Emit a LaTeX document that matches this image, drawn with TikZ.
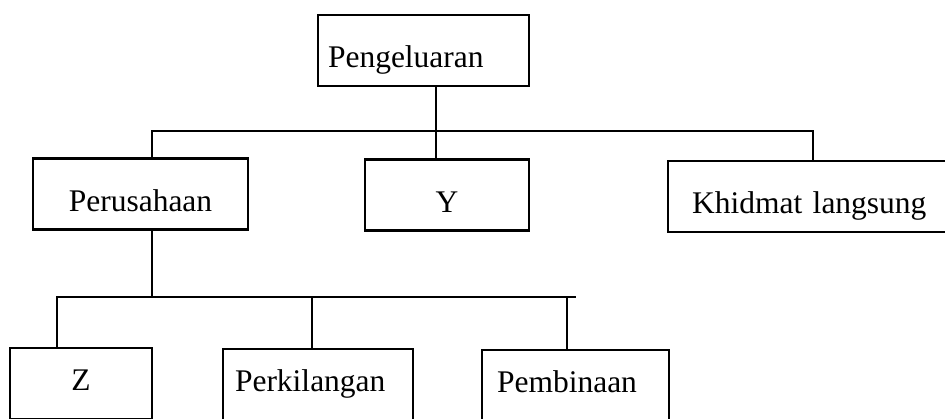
\documentclass[tikz,border=0pt]{standalone}
\usepackage{fontspec}
\setmainfont{Liberation Serif}
\begin{document}
\begin{tikzpicture}[x=1pt,y=-1pt,
  box/.style={draw,line width=2.2pt,inner sep=0pt,minimum height=71pt,
    font=\fontsize{31.5}{36}\selectfont},
  hibox/.style={box,text height=38pt,text depth=4pt},
  lobox/.style={box,text height=24pt,text depth=10pt},
  conn/.style={line width=2.2pt}]
\useasboundingbox (0,0) rectangle (945,418);
\clip (0,0) rectangle (945,418);
% boxes
\node[hibox,minimum width=211pt,text width=191pt,inner xsep=10pt,align=left] (top) at (423.5,50.5) {Pengeluaran};
\node[hibox,minimum width=215pt] (per) at (140.5,194) {Perusahaan};
\node[hibox,minimum width=164pt] (yb) at (447,195) {Y};
\node[hibox,minimum width=292pt,text width=244pt,inner xsep=24pt,align=left] (khid) at (814,196.5) {Khidmat langsung};
\node[lobox,minimum width=142pt] (zb) at (81,383.5) {Z};
\node[lobox,minimum width=190pt,text width=166pt,inner xsep=12pt,align=left] (perk) at (318,384.5) {Perkilangan};
\node[lobox,minimum width=187pt,text width=157pt,inner xsep=15pt,align=left] (pemb) at (575.5,385.5) {Pembinaan};
% junction coordinates
\coordinate (j1) at (436,131);
\coordinate (cL) at (152,131);
\coordinate (cR) at (813,131);
\coordinate (c2) at (152,297);
\coordinate (dL) at (57,297);
\coordinate (dR) at (576,297);
\coordinate (p1) at (312,297);
\coordinate (p2) at (567,297);
% connectors level 1
\draw[conn] (top.south -| j1) -- (j1);
\draw[conn] (per.north -| cL) -- (cL) -- (cR) -- (khid.north -| cR);
\draw[conn] (yb.north -| j1) -- (j1);
% connectors level 2
\draw[conn] (per.south -| c2) -- (c2);
\draw[conn] (zb.north -| dL) -- (dL) -- (dR);
\draw[conn] (perk.north -| p1) -- (p1);
\draw[conn] (pemb.north -| p2) -- (p2);
\end{tikzpicture}
\end{document}
